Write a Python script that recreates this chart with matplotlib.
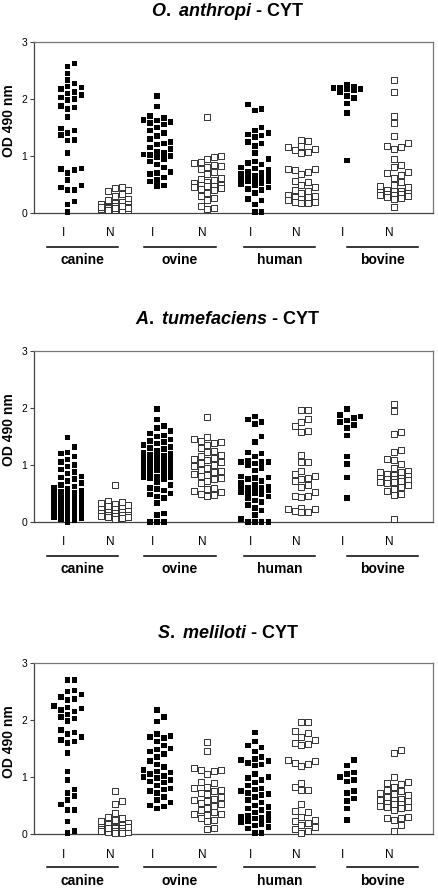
import numpy as np
import matplotlib
matplotlib.use("Agg")
import matplotlib.pyplot as plt
from matplotlib.transforms import blended_transform_factory

plt.rcParams['font.family'] = ['Liberation Sans', 'DejaVu Sans']
plt.rcParams['mathtext.fontset'] = 'custom'
plt.rcParams['mathtext.it'] = 'Liberation Sans:italic:bold'
plt.rcParams['mathtext.rm'] = 'Liberation Sans:bold'

groups = ["canine", "ovine", "human", "bovine"]
col_labels = ["I", "N", "I", "N", "I", "N", "I", "N"]
titles = [r"$\mathit{O.\ anthropi}$ - CYT",
          r"$\mathit{A.\ tumefaciens}$ - CYT",
          r"$\mathit{S.\ meliloti}$ - CYT"]

# ---- O. anthropi ----
oa_can_i = [2.62, 2.57, 2.45, 2.33, 2.27, 2.22, 2.20, 2.18, 2.12, 2.10, 2.07, 2.03, 2.00, 1.98,
            1.88, 1.85, 1.82, 1.68, 1.48, 1.45, 1.40, 1.37, 1.28, 1.27, 1.05, 0.78, 0.77, 0.75,
            0.70, 0.58, 0.48, 0.45, 0.40, 0.40, 0.20, 0.15, 0.02]
oa_can_n = [0.45, 0.43, 0.40, 0.38, 0.33, 0.30, 0.25, 0.22, 0.20, 0.18, 0.15, 0.13, 0.12, 0.10,
            0.10, 0.09, 0.08, 0.08, 0.07, 0.07, 0.06, 0.06, 0.05, 0.05, 0.10, 0.12, 0.15, 0.08,
            0.09, 0.11]
oa_ovi_i = [2.05, 1.87, 1.70, 1.67, 1.63, 1.62, 1.60, 1.58, 1.55, 1.50, 1.45, 1.40, 1.35, 1.30,
            1.25, 1.22, 1.20, 1.15, 1.12, 1.08, 1.05, 1.03, 1.02, 1.00, 0.98, 0.95, 0.90, 0.85,
            0.80, 0.72, 0.70, 0.68, 0.62, 0.58, 0.55, 0.48, 0.47]
oa_ovi_n = [1.68, 1.00, 0.98, 0.95, 0.90, 0.88, 0.85, 0.82, 0.80, 0.78, 0.72, 0.68, 0.62, 0.60,
            0.58, 0.55, 0.52, 0.50, 0.50, 0.48, 0.47, 0.45, 0.44, 0.42, 0.40, 0.35, 0.30, 0.27,
            0.23, 0.12, 0.08, 0.07]
oa_hum_i = [1.90, 1.82, 1.80, 1.50, 1.45, 1.40, 1.38, 1.36, 1.33, 1.25, 1.22, 1.18, 1.05, 0.95,
            0.90, 0.88, 0.85, 0.80, 0.78, 0.75, 0.72, 0.70, 0.68, 0.66, 0.65, 0.62, 0.60, 0.58,
            0.57, 0.55, 0.55, 0.53, 0.50, 0.48, 0.45, 0.42, 0.40, 0.35, 0.25, 0.22, 0.15, 0.02,
            0.02]
oa_hum_n = [1.28, 1.27, 1.17, 1.15, 1.13, 1.10, 1.07, 1.05, 0.78, 0.77, 0.75, 0.72, 0.68, 0.57,
            0.55, 0.50, 0.45, 0.40, 0.38, 0.35, 0.32, 0.30, 0.28, 0.28, 0.25, 0.22, 0.20, 0.20,
            0.18, 0.18]
oa_bov_i = [2.25, 2.22, 2.20, 2.19, 2.18, 2.17, 2.15, 2.12, 2.05, 2.02, 1.92, 1.75, 0.92]
oa_bov_n = [2.33, 2.13, 1.70, 1.58, 1.35, 1.22, 1.17, 1.15, 1.12, 0.95, 0.85, 0.80, 0.72, 0.70,
            0.67, 0.62, 0.55, 0.50, 0.47, 0.45, 0.40, 0.38, 0.38, 0.36, 0.35, 0.34, 0.33, 0.32,
            0.31, 0.30, 0.28, 0.26, 0.25, 0.10]

# ---- A. tumefaciens ----
at_can_i = [1.48, 1.32, 1.22, 1.20, 1.15, 1.10, 1.05, 1.00, 0.97, 0.92, 0.88, 0.85, 0.80, 0.78,
            0.75, 0.72, 0.68, 0.65, 0.62, 0.60, 0.58, 0.55, 0.53, 0.52, 0.50, 0.50, 0.48, 0.47,
            0.45, 0.43, 0.42, 0.40, 0.40, 0.38, 0.37, 0.35, 0.35, 0.33, 0.32, 0.30, 0.30, 0.28,
            0.27, 0.25, 0.25, 0.23, 0.22, 0.20, 0.20, 0.18, 0.17, 0.15, 0.15, 0.12, 0.10, 0.08,
            0.07, 0.05, 0.03, 0.00]
at_can_n = [0.65, 0.37, 0.35, 0.33, 0.32, 0.30, 0.28, 0.25, 0.23, 0.22, 0.20, 0.18, 0.17, 0.15,
            0.15, 0.13, 0.12, 0.12, 0.10, 0.10, 0.08, 0.08, 0.07, 0.06]
at_ovi_i = [1.98, 1.80, 1.68, 1.65, 1.60, 1.55, 1.52, 1.50, 1.45, 1.42, 1.40, 1.38, 1.35, 1.32,
            1.30, 1.28, 1.25, 1.22, 1.20, 1.18, 1.17, 1.15, 1.13, 1.12, 1.10, 1.08, 1.07, 1.05,
            1.03, 1.02, 1.00, 0.98, 0.97, 0.95, 0.93, 0.92, 0.90, 0.88, 0.87, 0.85, 0.82, 0.80,
            0.78, 0.78, 0.77, 0.75, 0.70, 0.65, 0.60, 0.58, 0.55, 0.50, 0.48, 0.45, 0.42, 0.33,
            0.15, 0.12, 0.00, 0.00, 0.00]
at_ovi_n = [1.85, 1.50, 1.45, 1.42, 1.40, 1.38, 1.35, 1.30, 1.25, 1.22, 1.18, 1.15, 1.13, 1.10,
            1.08, 1.05, 1.03, 1.00, 0.98, 0.95, 0.92, 0.90, 0.88, 0.85, 0.83, 0.80, 0.78, 0.75,
            0.72, 0.68, 0.60, 0.58, 0.55, 0.53, 0.50, 0.48, 0.45]
at_hum_i = [1.85, 1.80, 1.75, 1.72, 1.50, 1.40, 1.22, 1.20, 1.15, 1.08, 1.05, 1.05, 1.05, 1.03,
            1.00, 0.95, 0.90, 0.80, 0.78, 0.77, 0.75, 0.72, 0.68, 0.65, 0.62, 0.60, 0.60, 0.58,
            0.57, 0.55, 0.55, 0.53, 0.52, 0.50, 0.48, 0.45, 0.42, 0.38, 0.35, 0.30, 0.25, 0.20,
            0.12, 0.05, 0.00, 0.00, 0.00, 0.00]
at_hum_n = [1.97, 1.97, 1.80, 1.75, 1.68, 1.60, 1.58, 1.18, 1.05, 1.05, 0.90, 0.85, 0.80, 0.78,
            0.75, 0.72, 0.65, 0.62, 0.52, 0.45, 0.45, 0.43, 0.25, 0.23, 0.22, 0.20, 0.18, 0.17]
at_bov_i = [1.98, 1.88, 1.85, 1.82, 1.78, 1.75, 1.70, 1.65, 1.52, 1.15, 1.02, 0.78, 0.42]
at_bov_n = [2.07, 1.95, 1.58, 1.55, 1.27, 1.22, 1.10, 1.08, 1.02, 0.95, 0.90, 0.88, 0.87, 0.85,
            0.82, 0.80, 0.78, 0.77, 0.75, 0.75, 0.73, 0.72, 0.70, 0.70, 0.68, 0.65, 0.62, 0.58,
            0.55, 0.50, 0.47, 0.05]

# ---- S. meliloti ----
sm_can_i = [2.70, 2.70, 2.52, 2.50, 2.45, 2.40, 2.37, 2.35, 2.25, 2.22, 2.20, 2.18, 2.15, 2.10,
            2.05, 2.03, 1.98, 1.82, 1.78, 1.75, 1.70, 1.65, 1.62, 1.60, 1.42, 1.10, 0.95, 0.78,
            0.72, 0.67, 0.60, 0.52, 0.42, 0.42, 0.22, 0.05, 0.02]
sm_can_n = [0.75, 0.58, 0.52, 0.37, 0.30, 0.28, 0.25, 0.22, 0.20, 0.18, 0.15, 0.13, 0.12, 0.10,
            0.10, 0.08, 0.08, 0.07, 0.06, 0.05, 0.05, 0.04, 0.03, 0.02, 0.02, 0.12, 0.10]
sm_ovi_i = [2.18, 2.05, 1.97, 1.75, 1.72, 1.70, 1.68, 1.62, 1.55, 1.50, 1.48, 1.45, 1.40, 1.35,
            1.28, 1.22, 1.18, 1.12, 1.10, 1.08, 1.05, 1.02, 1.00, 0.98, 0.95, 0.92, 0.90, 0.85,
            0.80, 0.78, 0.75, 0.72, 0.65, 0.60, 0.55, 0.50, 0.48, 0.45]
sm_ovi_n = [1.62, 1.45, 1.15, 1.13, 1.12, 1.10, 1.05, 0.92, 0.90, 0.82, 0.80, 0.78, 0.75, 0.72,
            0.70, 0.65, 0.62, 0.60, 0.58, 0.55, 0.52, 0.50, 0.45, 0.42, 0.38, 0.35, 0.35, 0.33,
            0.28, 0.25, 0.22, 0.10, 0.08]
sm_hum_i = [1.78, 1.62, 1.55, 1.52, 1.45, 1.35, 1.32, 1.30, 1.28, 1.25, 1.22, 1.20, 1.05, 1.00,
            0.98, 0.95, 0.90, 0.85, 0.80, 0.78, 0.75, 0.72, 0.70, 0.68, 0.65, 0.60, 0.55, 0.50,
            0.47, 0.45, 0.42, 0.38, 0.35, 0.32, 0.30, 0.28, 0.27, 0.25, 0.22, 0.20, 0.18, 0.15,
            0.12, 0.10, 0.02, 0.02]
sm_hum_n = [1.97, 1.97, 1.80, 1.78, 1.70, 1.65, 1.60, 1.58, 1.57, 1.30, 1.28, 1.25, 1.22, 1.20,
            0.90, 0.82, 0.78, 0.78, 0.52, 0.40, 0.38, 0.30, 0.25, 0.22, 0.20, 0.15, 0.12, 0.08,
            0.05, 0.02]
sm_bov_i = [1.30, 1.20, 1.08, 1.05, 1.00, 0.95, 0.92, 0.75, 0.72, 0.62, 0.58, 0.45, 0.25]
sm_bov_n = [1.48, 1.42, 1.00, 0.92, 0.90, 0.88, 0.82, 0.78, 0.75, 0.72, 0.70, 0.68, 0.65, 0.62,
            0.60, 0.60, 0.58, 0.55, 0.53, 0.52, 0.50, 0.48, 0.47, 0.45, 0.42, 0.30, 0.28, 0.28,
            0.25, 0.15, 0.05]

panels = [
    [oa_can_i, oa_can_n, oa_ovi_i, oa_ovi_n, oa_hum_i, oa_hum_n, oa_bov_i, oa_bov_n],
    [at_can_i, at_can_n, at_ovi_i, at_ovi_n, at_hum_i, at_hum_n, at_bov_i, at_bov_n],
    [sm_can_i, sm_can_n, sm_ovi_i, sm_ovi_n, sm_hum_i, sm_hum_n, sm_bov_i, sm_bov_n],
]

# layout (pixels on a 438x890 canvas)
W, H = 438, 890
AX_L, AX_R, AX_H = 34, 433, 171
ax_top = [42, 351, 663]
title_y = [12, 320, 633]
lab_y = [233, 542, 855]
line_y = [247, 556, 867]
name_y = [260, 569, 881]
lab_x = [0.0, 1.0, 1.90, 2.97, 3.98, 4.97, 5.94, 6.94]
spans = [(-0.34, 1.17), (1.72, 3.26), (3.85, 5.36), (6.04, 7.55)]
XLIM = (-0.617, 7.87)
YMAX = 3

xpx = (AX_R - AX_L) / (XLIM[1] - XLIM[0])
ypx = AX_H / YMAX


def swarm(vals, step=6.8, gap=6.0, kmax=2):
    # column-scatter spread: a few fixed slots, overlap allowed once they fill up
    vals = np.asarray(vals, float)
    offs = np.zeros(len(vals))
    placed = []
    cands = [0.0]
    for k in range(1, kmax + 1):
        cands += [k * step, -k * step]
    for i in np.argsort(vals):
        y = vals[i] * ypx
        best, best_cost = 0.0, None
        for dx in cands:
            cost = sum(max(0, gap - abs(dx - px)) * max(0, gap - abs(y - py))
                       for px, py in placed)
            if best_cost is None or cost < best_cost - 1e-9:
                best, best_cost = dx, cost
            if cost == 0:
                break
        placed.append((best, y))
        offs[i] = best / xpx
    return offs


fig = plt.figure(figsize=(W / 100, H / 100), dpi=100)
for p, cols in enumerate(panels):
    ax = fig.add_axes([AX_L / W, 1 - (ax_top[p] + AX_H) / H, (AX_R - AX_L) / W, AX_H / H])
    for j, vals in enumerate(cols):
        xs = lab_x[j] + 0.1 + swarm(vals)
        if j % 2 == 0:
            ax.scatter(xs, vals, marker='s', s=16, c='black', edgecolors='none',
                       clip_on=False, zorder=3)
        else:
            ax.scatter(xs, vals, marker='s', s=22, facecolors='white', edgecolors='#333333',
                       linewidths=0.7, clip_on=False, zorder=3)
    ax.set_xlim(*XLIM)
    ax.set_ylim(0, YMAX)
    ax.set_xticks([])
    ax.set_yticks([0, 1, 2, 3])
    ax.tick_params(axis='y', length=3, width=0.8, pad=2, labelsize=7.5, color='#444444')
    for s in ax.spines.values():
        s.set_color('#777777')
        s.set_linewidth(0.9)
    ax.spines['left'].set_color('#444444')
    ax.spines['bottom'].set_color('#444444')
    ax.set_ylabel("OD 490 nm", fontsize=10, fontweight='bold')
    ax.yaxis.set_label_coords(-0.046, 0.54)

    tr = blended_transform_factory(ax.transData, fig.transFigure)
    for j, lab in enumerate(col_labels):
        ax.text(lab_x[j], 1 - lab_y[p] / H, lab, transform=tr, ha='center', va='center',
                fontsize=8.5)
    for g, (a, b) in zip(groups, spans):
        ax.plot([a, b], [1 - line_y[p] / H] * 2, transform=tr, color='black', lw=1.1,
                clip_on=False)
        ax.text((a + b) / 2, 1 - name_y[p] / H, g, transform=tr, ha='center', va='center',
                fontsize=10, fontweight='bold')
    fig.text(228 / W, 1 - title_y[p] / H, titles[p], ha='center', va='center',
             fontsize=13, fontweight='bold')

fig.savefig("out.png", dpi=100)
